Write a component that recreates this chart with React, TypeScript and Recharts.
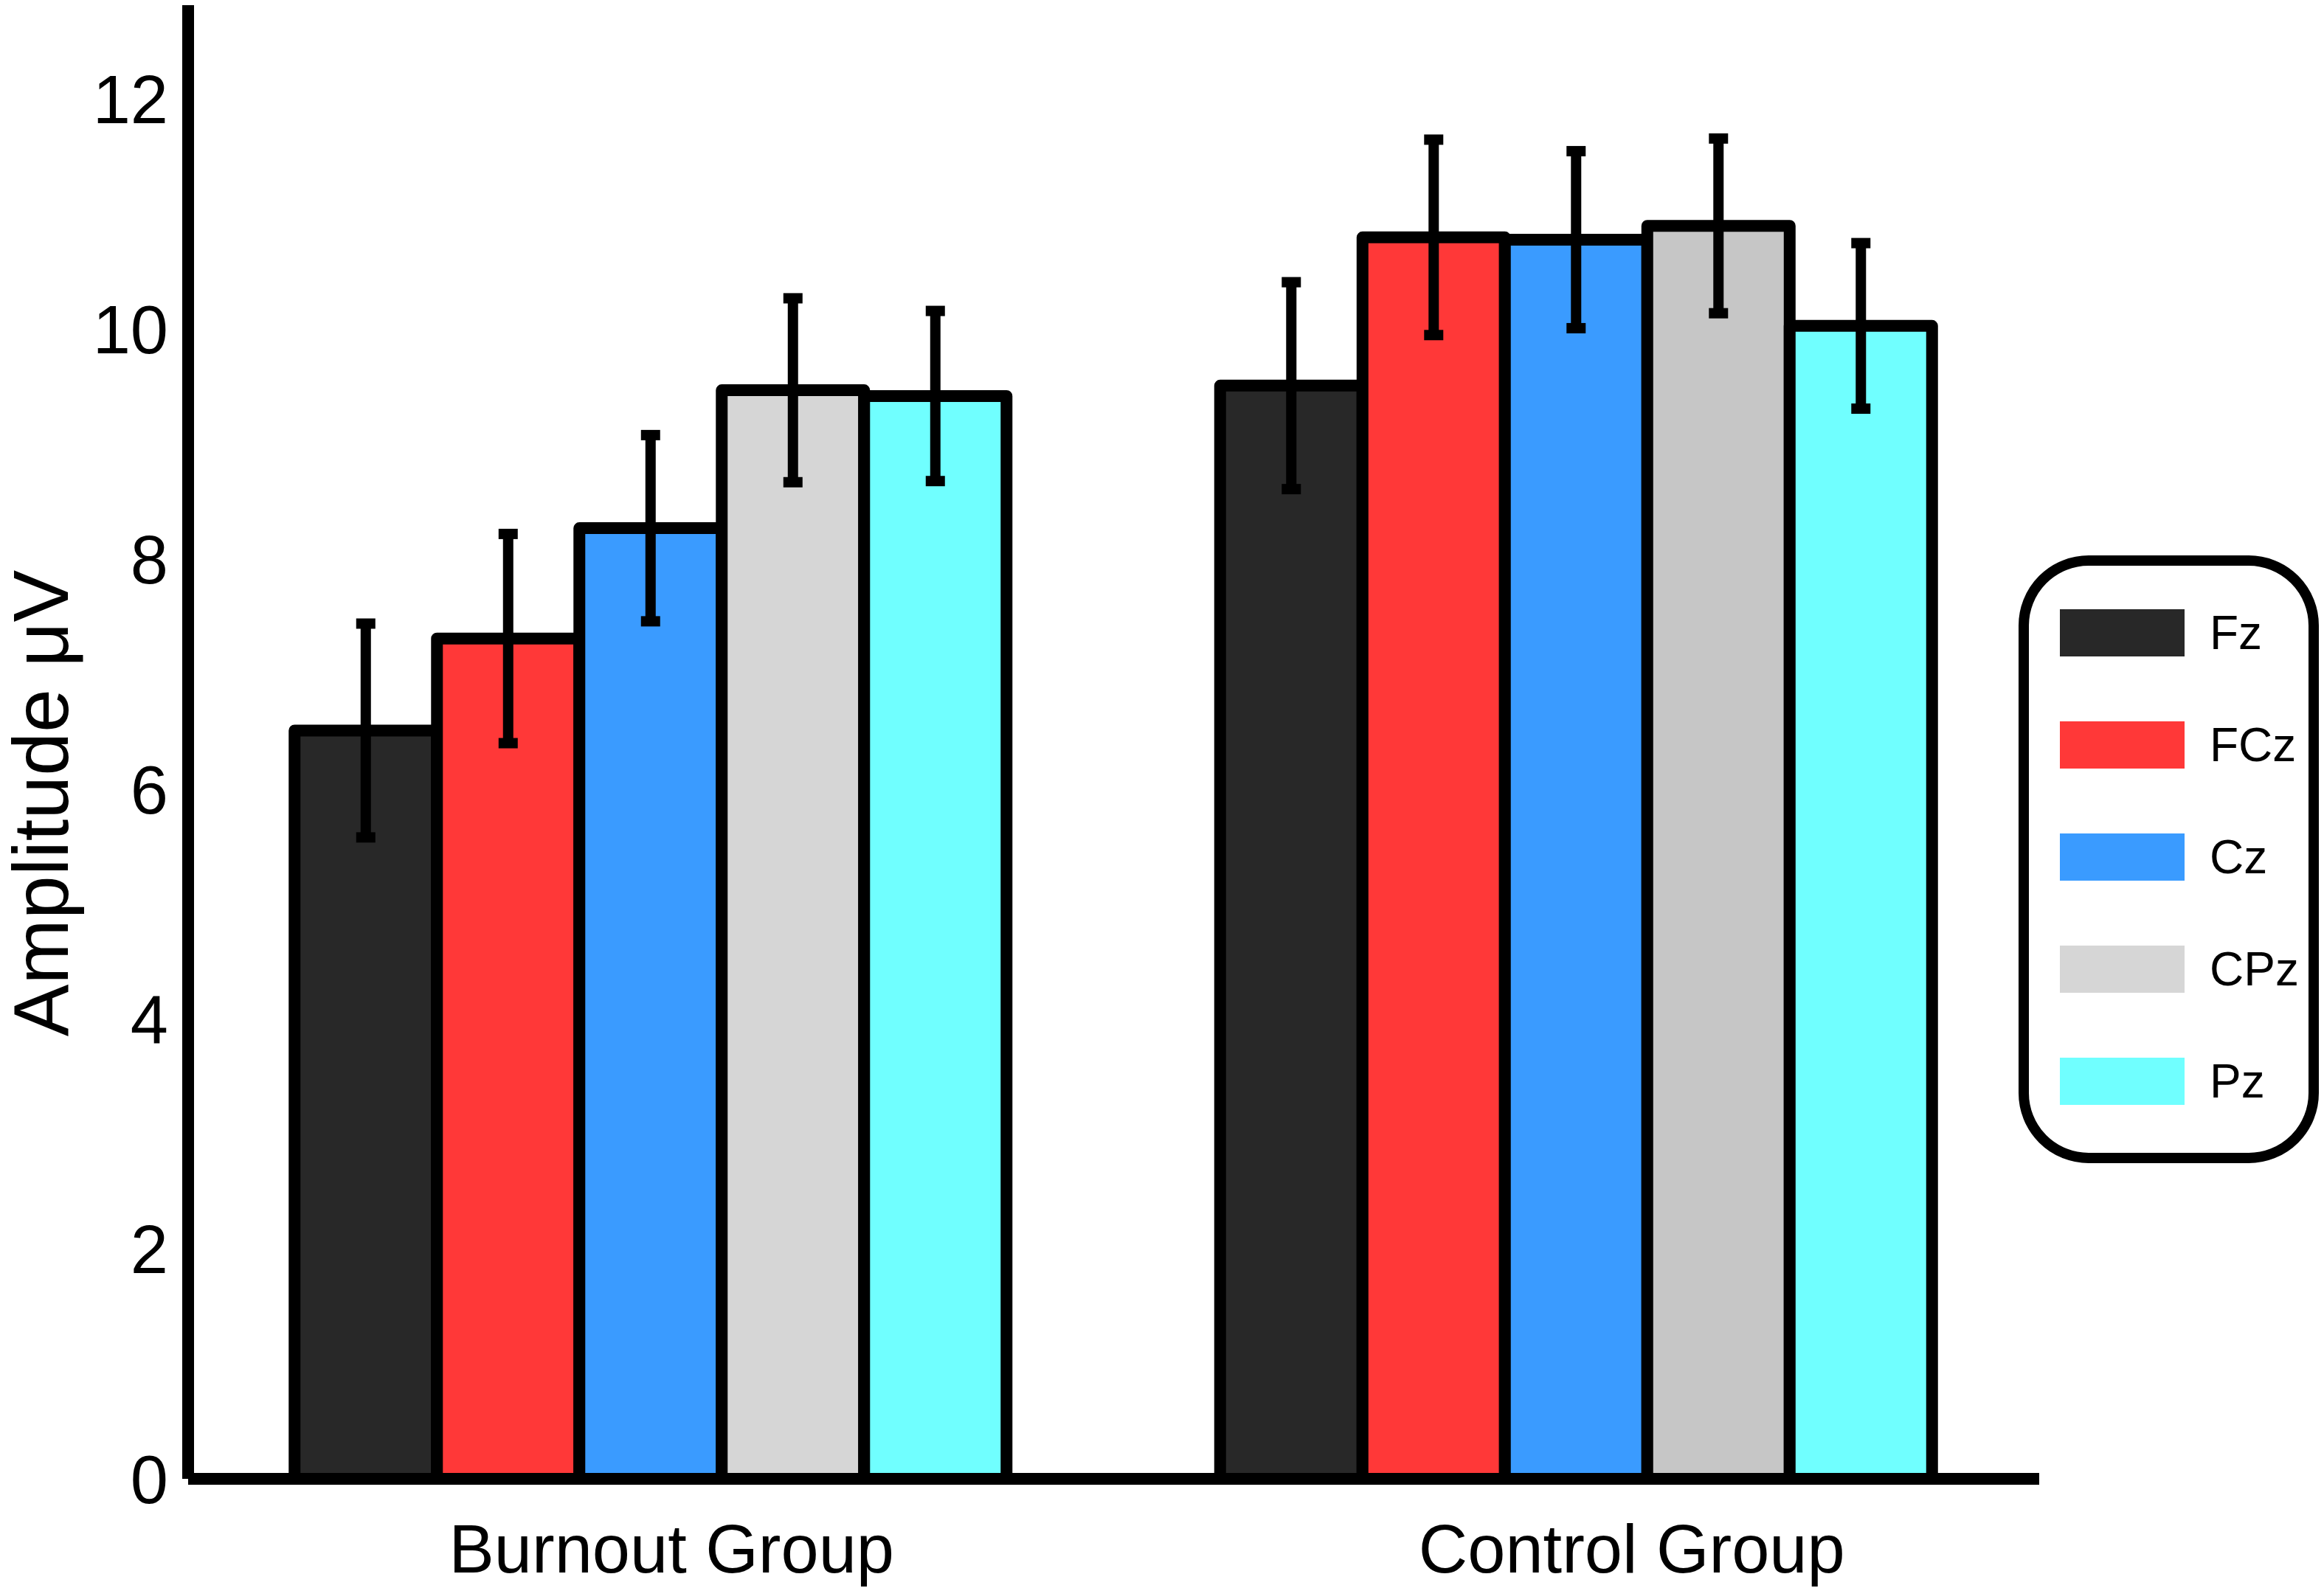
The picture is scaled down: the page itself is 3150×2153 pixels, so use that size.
import { Bar, BarChart, Cell, ErrorBar, Label, Legend, XAxis, YAxis } from "recharts";

const groups = ["Burnout Group", "Control Group"];
const channels = ["Fz", "FCz", "Cz", "CPz", "Pz"];

// mean amplitude per group (Burnout, Control)
const fzMean = [6.51, 9.51];
const fczMean = [7.31, 10.8];
const czMean = [8.27, 10.78];
const cpzMean = [9.47, 10.9];
const pzMean = [9.42, 10.03];

// error bar half-lengths
const fzErr = [0.93, 0.9];
const fczErr = [0.91, 0.85];
const czErr = [0.81, 0.77];
const cpzErr = [0.8, 0.76];
const pzErr = [0.74, 0.72];

const yTicks = [0, 2, 4, 6, 8, 10, 12];

const channelColors = ["#282828", "#ff3838", "#3a9bff", "#d6d6d6", "#70ffff"];
const cpzGroupColors = ["#d6d6d6", "#c6c6c6"];

const means = [fzMean, fczMean, czMean, cpzMean, pzMean];
const errs = [fzErr, fczErr, czErr, cpzErr, pzErr];

const data = groups.map((group, g) => {
  const row: Record<string, string | number> = { group };
  channels.forEach((ch, c) => {
    row[ch] = means[c][g];
    row[ch + "_err"] = errs[c][g];
  });
  return row;
});

const FONT = "'Liberation Sans', Arial, Helvetica, sans-serif";

// group labels sit a little right of the band centres in the original
const labelNudge = [28, 75];

function GroupTick(props: any) {
  const { x, y, payload } = props;
  const i = props.index ?? payload?.index ?? 0;
  return (
    <text
      x={x + (labelNudge[i] ?? 0)}
      y={y}
      dy="0.71em"
      textAnchor="middle"
      fontSize={92}
      fontFamily={FONT}
      fill="#000"
    >
      {payload.value}
    </text>
  );
}

function ChannelLegend({ payload }: any) {
  // keep series order (recharts sorts the payload by name)
  const items = [...(payload ?? [])].sort(
    (a: any, b: any) => channels.indexOf(a.value) - channels.indexOf(b.value)
  );
  return (
    <div
      style={{
        boxSizing: "border-box",
        width: 407,
        height: 824,
        border: "14px solid #000",
        borderRadius: 95,
        background: "#fff",
        paddingTop: 15,
        paddingLeft: 42,
      }}
    >
      {items.map((p: any) => (
        <div
          key={p.value}
          style={{ display: "flex", alignItems: "center", height: 152 }}
        >
          <div style={{ width: 169, height: 64, background: p.color }} />
          <span
            style={{
              marginLeft: 34,
              fontSize: 64,
              lineHeight: 1,
              fontFamily: FONT,
              color: "#000",
            }}
          >
            {p.value}
          </span>
        </div>
      ))}
    </div>
  );
}

export default function App() {
  return (
    <div style={{ position: "absolute", left: 0, top: 0, background: "#fff" }}>
      <BarChart
        width={3150}
        height={2153}
        data={data}
        margin={{ top: 7, right: 386, left: 0, bottom: 0 }}
        barCategoryGap="11.5%"
        barGap={0}
      >
        {channels.map((ch, c) => (
          <Bar
            key={ch}
            dataKey={ch}
            name={ch}
            fill={channelColors[c]}
            stroke="#000"
            strokeWidth={16}
            strokeLinejoin="round"
            isAnimationActive={false}
          >
            {ch === "CPz" &&
              groups.map((g, i) => <Cell key={g} fill={cpzGroupColors[i]} />)}
            <ErrorBar
              dataKey={ch + "_err"}
              width={13}
              strokeWidth={14}
              stroke="#000"
              direction="y"
            />
          </Bar>
        ))}
        <XAxis
          dataKey="group"
          height={148}
          tickLine={false}
          tickMargin={56}
          axisLine={{ stroke: "#000", strokeWidth: 16 }}
          tick={<GroupTick />}
        />
        <YAxis
          width={255}
          domain={[0, 12.82]}
          ticks={yTicks}
          interval={0}
          tickLine={false}
          tickMargin={21}
          axisLine={{ stroke: "#000", strokeWidth: 16 }}
          tick={{ fontSize: 92, fill: "#000", fontFamily: FONT }}
        >
          <Label
            content={({ viewBox }: any) => {
              const cx = viewBox.x + 55;
              const cy = viewBox.y + viewBox.height / 2 + 83;
              return (
                <text
                  x={cx}
                  y={cy}
                  transform={`rotate(-90 ${cx} ${cy})`}
                  textAnchor="middle"
                  dominantBaseline="central"
                  fontSize={106}
                  fontFamily={FONT}
                  fill="#000"
                >
                  Amplitude μV
                </text>
              );
            }}
          />
        </YAxis>
        <Legend
          layout="vertical"
          align="center"
          verticalAlign="middle"
          itemSorter={null as any}
          content={<ChannelLegend />}
          wrapperStyle={{ left: 2736, top: 753, width: 407, height: 824 }}
        />
      </BarChart>
    </div>
  );
}
